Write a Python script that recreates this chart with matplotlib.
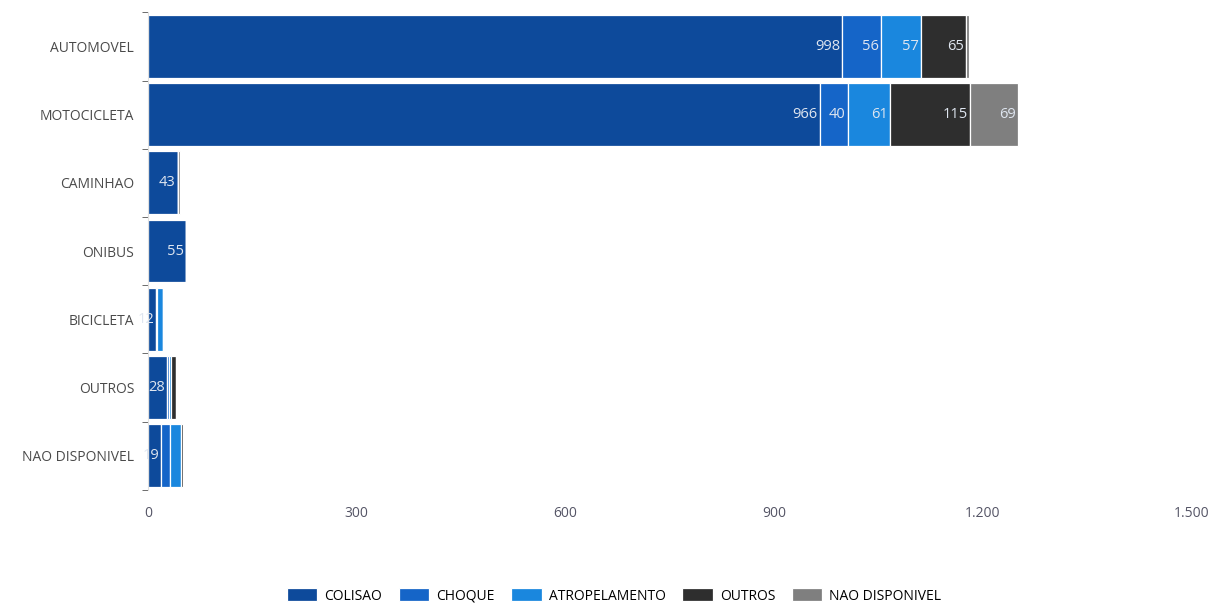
import numpy as np
import matplotlib.pyplot as plt
from matplotlib.ticker import FuncFormatter

categories = ['AUTOMOVEL', 'MOTOCICLETA', 'CAMINHAO', 'ONIBUS', 'BICICLETA', 'OUTROS', 'NAO DISPONIVEL']
series = ['COLISAO', 'CHOQUE', 'ATROPELAMENTO', 'OUTROS', 'NAO DISPONIVEL']
colisao = [998, 966, 43, 55, 12, 28, 19]
choque = [56, 40, 0, 0, 1, 2, 12]
atropelamento = [57, 61, 0, 0, 9, 3, 16]
outros = [65, 115, 0, 0, 0, 7, 4]
nao_disponivel = [5, 69, 3, 0, 0, 0, 0]
x_ticks = [0, 300, 600, 900, 1200, 1500]

values = [colisao, choque, atropelamento, outros, nao_disponivel]
colors = ['#0d4a9b', '#1565c8', '#1a87de', '#2e2e2e', '#7f7f7f']

plt.rcParams['font.family'] = ['Open Sans', 'DejaVu Sans']

fig = plt.figure(figsize=(12.16, 6.16), dpi=100)
ax = fig.add_axes([0.1217, 0.205, 0.858, 0.775])

y = np.arange(len(categories))
left = np.zeros(len(categories))
for k, (name, vals) in enumerate(zip(series, values)):
    vals = np.array(vals, dtype=float)
    ax.barh(y, vals, left=left, height=0.92, color=colors[k],
            edgecolor='white', linewidth=0.9, label=name)
    for i, v in enumerate(vals):
        if v <= 0:
            continue
        if k == 0 or v >= 28:
            ax.text(left[i] + v - 3, y[i], f'{int(v)}', ha='right', va='center',
                    color='#dfe6f0', fontsize=10.5)
    left += vals

ax.set_ylim(len(categories) - 0.5, -0.5)
ax.set_xlim(0, 1500)
ax.set_yticks(y)
ax.set_yticklabels(categories, color='#4a4a4a', fontsize=10)
ax.set_yticks(np.arange(len(categories) + 1) - 0.5, minor=True)
ax.tick_params(axis='y', which='major', length=0, pad=10)
ax.tick_params(axis='y', which='minor', length=4, color='#555555')
ax.set_xticks(x_ticks)
ax.xaxis.set_major_formatter(FuncFormatter(lambda v, p: f'{int(v):,}'.replace(',', '.')))
ax.tick_params(axis='x', length=0, colors='#555566', labelsize=10, pad=12)
for s in ['top', 'right', 'bottom']:
    ax.spines[s].set_visible(False)
ax.spines['left'].set_color('#e0e0e0')

fig.legend(loc='lower center', bbox_to_anchor=(0.505, 0.0), ncol=5, frameon=False,
           fontsize=10, handlelength=2.2, handleheight=1.1, columnspacing=1.2,
           handletextpad=0.5)

fig.savefig('out.png', dpi=100)
